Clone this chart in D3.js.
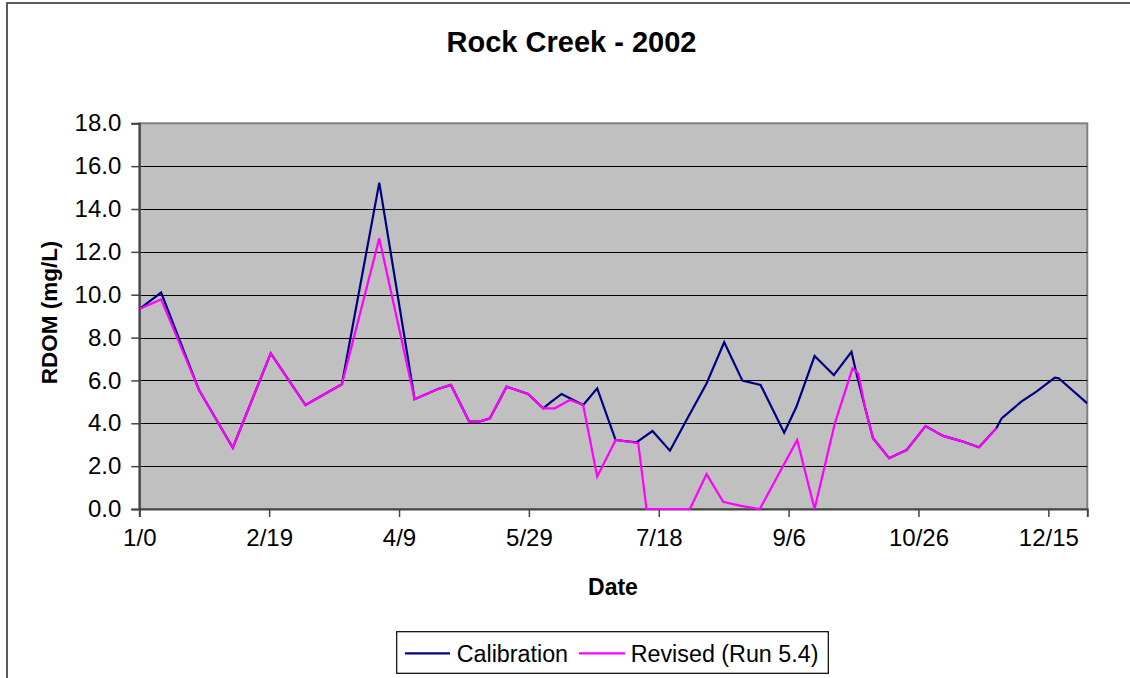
<!DOCTYPE html>
<html>
<head>
<meta charset="utf-8">
<script src="https://cdn.jsdelivr.net/npm/d3@7"></script>
<style>
  html, body { margin: 0; padding: 0; background: #fff; }
  svg { display: block; font-family: Arial, "Liberation Sans", sans-serif; }
</style>
</head>
<body>
<svg id="chart" width="1130" height="678"></svg>
<script>
// ---- data (day of year, RDOM mg/L) ----
const title = "Rock Creek - 2002";
const xTitle = "Date";
const yTitle = "RDOM (mg/L)";
const seriesNames = ["Calibration", "Revised (Run 5.4)"];
const xTickValues = [0, 50, 100, 150, 200, 250, 300, 350];
const xTickLabels = ["1/0", "2/19", "4/9", "5/29", "7/18", "9/6", "10/26", "12/15"];
const yTickValues = [0, 2, 4, 6, 8, 10, 12, 14, 16, 18];

const calDays = [0, 8.4, 23, 36, 50.6, 64, 78, 92.4, 106, 115, 120, 127, 131, 135, 141.4, 149.7, 155.5, 158.7, 162.6, 170.9, 176.3, 183.4, 191.4, 197.6, 204.3, 210.7, 218.4, 225.2, 232.2, 239.2, 248.3, 253, 260, 267.4, 274.2, 275.8, 279.5, 282.5, 288.7, 295.4, 302.7, 309.5, 316.5, 323.3, 330, 332, 339.6, 345.4, 352.5, 354, 365];
const calValues = [9.33, 10.1, 5.55, 2.86, 7.26, 4.85, 5.82, 15.23, 5.12, 5.6, 5.79, 4.08, 4.08, 4.23, 5.71, 5.37, 4.7, 5.01, 5.37, 4.85, 5.63, 3.22, 3.11, 3.64, 2.72, 4.15, 5.86, 7.78, 5.99, 5.79, 3.56, 4.77, 7.14, 6.25, 7.34, 6.49, 4.7, 3.3, 2.37, 2.75, 3.87, 3.41, 3.17, 2.88, 3.77, 4.23, 5.01, 5.48, 6.13, 6.1, 4.93];

const revDays = [0, 8.4, 23, 36, 50.6, 64, 78, 92.4, 106, 115, 120, 127, 131, 135, 141.4, 149.7, 155.5, 160, 165.8, 170.9, 176.3, 183.4, 192.1, 195.3, 212, 218.4, 224.8, 231.2, 238.9, 253.3, 260, 267.8, 274.6, 276.8, 279.5, 282.5, 288.7, 295.4, 302.7, 309.5, 316.5, 323.3, 330];
const revValues = [9.33, 9.78, 5.55, 2.86, 7.26, 4.85, 5.82, 12.63, 5.12, 5.6, 5.79, 4.08, 4.08, 4.23, 5.71, 5.37, 4.7, 4.7, 5.09, 4.85, 1.51, 3.22, 3.07, 0, 0, 1.63, 0.34, 0.16, 0, 3.22, 0, 4.0, 6.56, 6.33, 4.7, 3.3, 2.37, 2.75, 3.87, 3.41, 3.17, 2.88, 3.77];

const colors = ["#000080", "#FF00FF"];

// ---- layout ----
const svg = d3.select("#chart");
const plot = { left: 139.3, right: 1087.3, top: 123.3, bottom: 509 };

const x = d3.scaleLinear().domain([0, 365]).range([plot.left, plot.right]);
const y = d3.scaleLinear().domain([0, 18]).range([plot.bottom, plot.top]);

// outer chart-area border
svg.append("rect")
  .attr("x", 7).attr("y", 3)
  .attr("width", 1140).attr("height", 700)
  .attr("fill", "#fff").attr("stroke", "#333").attr("stroke-width", 1.6);

// plot area
svg.append("rect")
  .attr("x", plot.left).attr("y", plot.top)
  .attr("width", plot.right - plot.left).attr("height", plot.bottom - plot.top)
  .attr("fill", "#C0C0C0").attr("stroke", "#808080").attr("stroke-width", 2);

// gridlines
svg.append("g").selectAll("line")
  .data(yTickValues.filter(v => v > 0 && v < 18))
  .join("line")
  .attr("x1", plot.left).attr("x2", plot.right)
  .attr("y1", d => Math.round(y(d)) + 0.5).attr("y2", d => Math.round(y(d)) + 0.5)
  .attr("stroke", "#000").attr("stroke-width", 1);

// y axis
const yAxis = d3.axisLeft(y).tickValues(yTickValues).tickFormat(d3.format(".1f")).tickSize(8).tickPadding(10);
const gy = svg.append("g").attr("transform", `translate(${plot.left},0)`).call(yAxis);
gy.select(".domain").attr("stroke", "#444").attr("stroke-width", 2);
gy.selectAll(".tick line").attr("stroke", "#444").attr("stroke-width", 1.5);
gy.selectAll(".tick text").attr("font-size", 24).attr("fill", "#000")
  .attr("font-family", "Arial, 'Liberation Sans', sans-serif");

// x axis
const xAxis = d3.axisBottom(x).tickValues(xTickValues)
  .tickFormat((d, i) => xTickLabels[i]).tickSize(8).tickPadding(12);
const gx = svg.append("g").attr("transform", `translate(0,${plot.bottom})`).call(xAxis);
gx.select(".domain").attr("stroke", "#444").attr("stroke-width", 2);
gx.selectAll(".tick line").attr("stroke", "#444").attr("stroke-width", 1.5);
gx.selectAll(".tick text").attr("font-size", 24).attr("fill", "#000")
  .attr("font-family", "Arial, 'Liberation Sans', sans-serif");

// lines
const line = d3.line().x(d => x(d[0])).y(d => y(d[1]));
const calData = calDays.map((d, i) => [d, calValues[i]]);
const revData = revDays.map((d, i) => [d, revValues[i]]);
svg.append("clipPath").attr("id", "clip").append("rect")
  .attr("x", plot.left).attr("y", plot.top - 2)
  .attr("width", plot.right - plot.left).attr("height", plot.bottom - plot.top + 4);
svg.append("path").datum(calData).attr("d", line)
  .attr("fill", "none").attr("stroke", colors[0]).attr("stroke-width", 2.2)
  .attr("stroke-linejoin", "miter").attr("clip-path", "url(#clip)");
svg.append("path").datum(revData).attr("d", line)
  .attr("fill", "none").attr("stroke", colors[1]).attr("stroke-width", 2.2)
  .attr("stroke-linejoin", "miter").attr("clip-path", "url(#clip)");

// titles
svg.append("text").attr("x", 571.5).attr("y", 52).attr("text-anchor", "middle")
  .attr("font-size", 29).attr("font-weight", "bold").text(title);
svg.append("text").attr("x", 613).attr("y", 595).attr("text-anchor", "middle")
  .attr("font-size", 23).attr("font-weight", "bold").text(xTitle);
svg.append("text").attr("transform", "translate(57,312.5) rotate(-90)")
  .attr("text-anchor", "middle")
  .attr("font-size", 22.5).attr("font-weight", "bold").text(yTitle);

// legend
const lg = svg.append("g");
lg.append("rect").attr("x", 396.7).attr("y", 631.7).attr("width", 431.6).attr("height", 41.6)
  .attr("fill", "#fff").attr("stroke", "#000").attr("stroke-width", 1.2);
const legendItems = [
  { name: seriesNames[0], color: colors[0], x1: 405, x2: 450, tx: 456.7 },
  { name: seriesNames[1], color: colors[1], x1: 579, x2: 625, tx: 630.7 }
];
legendItems.forEach(it => {
  lg.append("line").attr("x1", it.x1).attr("x2", it.x2).attr("y1", 653.3).attr("y2", 653.3)
    .attr("stroke", it.color).attr("stroke-width", 2.2);
  lg.append("text").attr("x", it.tx).attr("y", 661.5).attr("font-size", 23.3)
    .attr("fill", "#000").text(it.name);
});
</script>
</body>
</html>
